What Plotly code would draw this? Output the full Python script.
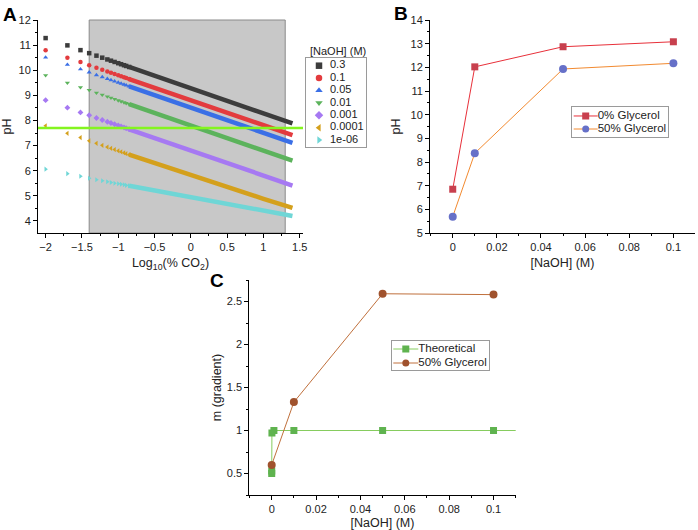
import plotly.graph_objects as go

FONT = "Liberation Sans, Arial, sans-serif"
W, H = 698, 530

# ---------------- panel A data: pH vs log10(% CO2) ----------------
naoh_labels = ["0.3", "0.1", "0.05", "0.01", "0.001", "0.0001", "1e-06"]
log_co2_pts = [-2.0, -1.7, -1.52, -1.4, -1.3, -1.22, -1.15, -1.1, -1.05, -1.0, -0.96, -0.92, -0.89, -0.85]
log_co2_line = [-0.85, -0.5, 0.0, 0.5, 1.0, 1.4]

ph_03_pts = [11.28, 10.99, 10.80, 10.68, 10.58, 10.50, 10.43, 10.38, 10.33, 10.28, 10.24, 10.20, 10.17, 10.13]
ph_03_line = [10.13, 9.78, 9.28, 8.78, 8.28, 7.88]
ph_01_pts = [10.80, 10.50, 10.33, 10.20, 10.10, 10.02, 9.95, 9.90, 9.85, 9.80, 9.76, 9.72, 9.69, 9.65]
ph_01_line = [9.65, 9.30, 8.80, 8.30, 7.80, 7.42]
ph_005_pts = [10.51, 10.22, 10.04, 9.92, 9.81, 9.73, 9.66, 9.61, 9.56, 9.51, 9.47, 9.43, 9.40, 9.36]
ph_005_line = [9.36, 9.01, 8.51, 8.01, 7.51, 7.11]
ph_001_pts = [9.80, 9.50, 9.32, 9.21, 9.10, 9.02, 8.95, 8.90, 8.85, 8.80, 8.76, 8.72, 8.69, 8.65]
ph_001_line = [8.65, 8.30, 7.80, 7.30, 6.80, 6.40]
ph_0001_pts = [8.81, 8.51, 8.32, 8.21, 8.10, 8.02, 7.95, 7.90, 7.85, 7.80, 7.76, 7.72, 7.69, 7.65]
ph_0001_line = [7.65, 7.30, 6.80, 6.30, 5.80, 5.41]
ph_00001_pts = [7.79, 7.49, 7.32, 7.19, 7.09, 7.01, 6.94, 6.89, 6.84, 6.79, 6.75, 6.71, 6.68, 6.64]
ph_00001_line = [6.64, 6.30, 5.81, 5.33, 4.88, 4.52]
ph_1e6_pts = [6.06, 5.88, 5.78, 5.70, 5.64, 5.60, 5.56, 5.53, 5.50, 5.48, 5.46, 5.44, 5.42, 5.40]
ph_1e6_line = [5.40, 5.21, 4.96, 4.70, 4.43, 4.20]

ph_threshold = 7.7
shade_range = [-1.4, 1.3]

# ---------------- panel B data ----------------
naoh_b = [0, 0.01, 0.05, 0.1]
ph_glyc0 = [6.85, 12.02, 12.87, 13.08]
ph_glyc50 = [5.69, 8.37, 11.93, 12.17]

# ---------------- panel C data ----------------
naoh_theo = [0.000001, 0.00001, 0.0001, 0.001, 0.01, 0.05, 0.1, 0.3]
m_theo = [0.5, 0.53, 0.97, 1.0, 1.0, 1.0, 1.0, 1.0]
naoh_c = [0, 0.01, 0.05, 0.1]
m_glyc50 = [0.6, 1.33, 2.59, 2.58]

colors_a = ["#3c3c3c", "#e33b3e", "#3a6fe6", "#5cb35c", "#a679f2", "#d4a01c", "#6fd6d6"]
symbols_a = ["square", "circle", "triangle-up", "triangle-down", "diamond", "triangle-left", "triangle-right"]

pts_a = [ph_03_pts, ph_01_pts, ph_005_pts, ph_001_pts, ph_0001_pts, ph_00001_pts, ph_1e6_pts]
lines_a = [ph_03_line, ph_01_line, ph_005_line, ph_001_line, ph_0001_line, ph_00001_line, ph_1e6_line]


def px_x(a, b):
    return [a / W, b / W]


def px_y(top, bottom):
    return [1 - bottom / H, 1 - top / H]


def main_axis(domain, rng, dtick, minor, anchor, title, standoff):
    return dict(domain=domain, range=rng, dtick=dtick, tick0=0, anchor=anchor,
                ticks="outside", ticklen=4, tickwidth=1, tickcolor="black",
                showline=True, linecolor="black", linewidth=1,
                showgrid=False, zeroline=False,
                minor=dict(ticks="outside", ticklen=2, dtick=minor, tick0=0, tickcolor="black", showgrid=False),
                tickfont=dict(size=11, color="#222"),
                title=dict(text=title, standoff=standoff, font=dict(size=12.5, color="#222")))


def mirror_axis(base, rng, dtick, minor, anchor, side):
    return dict(overlaying=base, anchor=anchor, side=side, range=rng, dtick=dtick, tick0=0,
                ticks="inside", ticklen=4, tickwidth=1, tickcolor="black",
                showline=True, linecolor="black", linewidth=1,
                showgrid=False, zeroline=False, showticklabels=False,
                minor=dict(ticks="inside", ticklen=2, dtick=minor, tick0=0, tickcolor="black", showgrid=False))


def legend_axis(domain, rng, anchor):
    return dict(domain=domain, range=rng, anchor=anchor, showline=True, mirror=True, linecolor="#9a9a9a",
                linewidth=1, showgrid=False, zeroline=False, showticklabels=False, ticks="", fixedrange=True)


fig = go.Figure()

# ---- panel A
fig.add_shape(type="rect", xref="x", yref="y domain", x0=shade_range[0], x1=shade_range[1], y0=0, y1=1,
              fillcolor="#c8c8c8", line=dict(color="#8a8a8a", width=1), layer="below")
for i in range(len(naoh_labels)):
    fig.add_trace(go.Scatter(x=log_co2_line, y=lines_a[i], mode="lines", xaxis="x", yaxis="y",
                             line=dict(color=colors_a[i], width=4.5), hoverinfo="skip"))
    fig.add_trace(go.Scatter(x=log_co2_pts, y=pts_a[i], mode="markers", xaxis="x", yaxis="y",
                             marker=dict(symbol=symbols_a[i], color=colors_a[i], size=4.5, line=dict(width=0))))
fig.add_shape(type="line", xref="x domain", x0=0, x1=1, yref="y", y0=ph_threshold, y1=ph_threshold,
              line=dict(color="#84f51f", width=2.5), layer="above")

# legend A (markers + labels)
fig.add_trace(go.Scatter(x=[13] * 7, y=list(range(7)), mode="markers", xaxis="x7", yaxis="y7",
                         marker=dict(symbol=symbols_a, color=colors_a, size=6.5, line=dict(width=0))))
fig.add_trace(go.Scatter(x=[24] * 7, y=list(range(7)), mode="text", text=naoh_labels, xaxis="x7", yaxis="y7",
                         textposition="middle right", cliponaxis=False, textfont=dict(size=11, color="#222")))

# ---- panel B
fig.add_trace(go.Scatter(x=naoh_b, y=ph_glyc0, mode="lines+markers", xaxis="x2", yaxis="y2",
                         line=dict(color="#e8303a", width=1),
                         marker=dict(symbol="square", size=7, color="#c8404e")))
fig.add_trace(go.Scatter(x=naoh_b, y=ph_glyc50, mode="lines+markers", xaxis="x2", yaxis="y2",
                         line=dict(color="#f28a30", width=1),
                         marker=dict(symbol="circle", size=8, color="#6670c8")))
legend_b = ["0% Glycerol", "50% Glycerol"]
for i, (lc, mc, sym) in enumerate([("#e8303a", "#c8404e", "square"), ("#f28a30", "#6670c8", "circle")]):
    fig.add_trace(go.Scatter(x=[2, 26], y=[i, i], mode="lines", xaxis="x8", yaxis="y8",
                             line=dict(color=lc, width=1)))
    fig.add_trace(go.Scatter(x=[14], y=[i], mode="markers", xaxis="x8", yaxis="y8",
                             marker=dict(symbol=sym, size=7, color=mc)))
fig.add_trace(go.Scatter(x=[26, 26], y=[0, 1], mode="text", text=legend_b, xaxis="x8", yaxis="y8",
                         textposition="middle right", cliponaxis=False, textfont=dict(size=11.5, color="#222")))

# ---- panel C
fig.add_trace(go.Scatter(x=naoh_theo, y=m_theo, mode="lines+markers", xaxis="x3", yaxis="y3",
                         line=dict(color="#86cc5e", width=1),
                         marker=dict(symbol="square", size=7, color="#5fb34f")))
fig.add_trace(go.Scatter(x=naoh_c, y=m_glyc50, mode="lines+markers", xaxis="x3", yaxis="y3",
                         line=dict(color="#c0703c", width=1),
                         marker=dict(symbol="circle", size=8, color="#a0522d")))
legend_c = ["Theoretical", "50% Glycerol"]
for i, (lc, mc, sym) in enumerate([("#86cc5e", "#5fb34f", "square"), ("#c0703c", "#a0522d", "circle")]):
    fig.add_trace(go.Scatter(x=[1, 26], y=[i, i], mode="lines", xaxis="x9", yaxis="y9",
                             line=dict(color=lc, width=1)))
    fig.add_trace(go.Scatter(x=[13.5], y=[i], mode="markers", xaxis="x9", yaxis="y9",
                             marker=dict(symbol=sym, size=7, color=mc)))
fig.add_trace(go.Scatter(x=[26, 26], y=[0, 1], mode="text", text=legend_c, xaxis="x9", yaxis="y9",
                         textposition="middle right", cliponaxis=False, textfont=dict(size=11.5, color="#222")))

# ---- axes
rng_ax, rng_ay = [-2.105, 1.545], [3.52, 12]
rng_bx, rng_by = [-0.0103, 0.1098], [5, 14]
rng_cx, rng_cy = [-0.0101, 0.110], [0.25, 2.75]
dom_a = (px_x(38, 303), px_y(20, 233))
dom_b = (px_x(430, 695), px_y(20, 233))
dom_c = (px_x(249.3, 515.7), px_y(280, 495))

fig.update_layout(
    width=W, height=H, margin=dict(l=0, r=0, t=0, b=0, autoexpand=False),
    paper_bgcolor="white", plot_bgcolor="white", showlegend=False,
    font=dict(family=FONT, color="#222"),
    xaxis=main_axis(dom_a[0], rng_ax, 0.5, 0.25, "y", "Log<sub>10</sub>(% CO<sub>2</sub>)", 6),
    yaxis=main_axis(dom_a[1], rng_ay, 1, 0.5, "x", "pH", 4),
    xaxis2=main_axis(dom_b[0], rng_bx, 0.02, 0.01, "y2", "[NaOH] (M)", 6),
    yaxis2=main_axis(dom_b[1], rng_by, 1, 0.5, "x2", "pH", 7),
    xaxis3=main_axis(dom_c[0], rng_cx, 0.02, 0.01, "y3", "[NaOH] (M)", 6),
    yaxis3=main_axis(dom_c[1], rng_cy, 0.5, 0.25, "x3", "m (gradient)", 2),
    xaxis4=mirror_axis("x", rng_ax, 0.5, 0.25, "y", "top"),
    yaxis4=mirror_axis("y", rng_ay, 1, 0.5, "x", "right"),
    xaxis5=mirror_axis("x2", rng_bx, 0.02, 0.01, "y2", "top"),
    yaxis5=mirror_axis("y2", rng_by, 1, 0.5, "x2", "right"),
    xaxis6=mirror_axis("x3", rng_cx, 0.02, 0.01, "y3", "top"),
    yaxis6=mirror_axis("y3", rng_cy, 0.5, 0.25, "x3", "right"),
    xaxis7=legend_axis(px_x(306, 366), [0, 60], "y7"),
    yaxis7=legend_axis(px_y(58, 147), [6.56, -0.62], "x7"),
    xaxis8=legend_axis(px_x(571.7, 668), [0, 96.3], "y8"),
    yaxis8=legend_axis(px_y(107, 137), [1.615, -0.69], "x8"),
    xaxis9=legend_axis(px_x(392.3, 489.3), [0, 97], "y9"),
    yaxis9=legend_axis(px_y(341, 370), [1.5, -0.571], "x9"),
)

# panel letters and legend title
for letter, lx, ty in [("A", 1, 2), ("B", 392, 1), ("C", 208, 268)]:
    fig.add_annotation(text="<b>%s</b>" % letter, x=lx / W, y=1 - ty / H, xref="paper", yref="paper",
                       xanchor="left", yanchor="top", showarrow=False, font=dict(size=19, color="black"))
fig.add_annotation(text="[NaOH] (M)", x=308 / W, y=1 - 51 / H, xref="paper", yref="paper",
                   xanchor="left", yanchor="middle", showarrow=False, font=dict(size=11, color="#222"))

fig.write_html("out.html", config={"displayModeBar": False},
               post_script="document.body.style.margin='0';document.body.style.overflow='hidden';")
